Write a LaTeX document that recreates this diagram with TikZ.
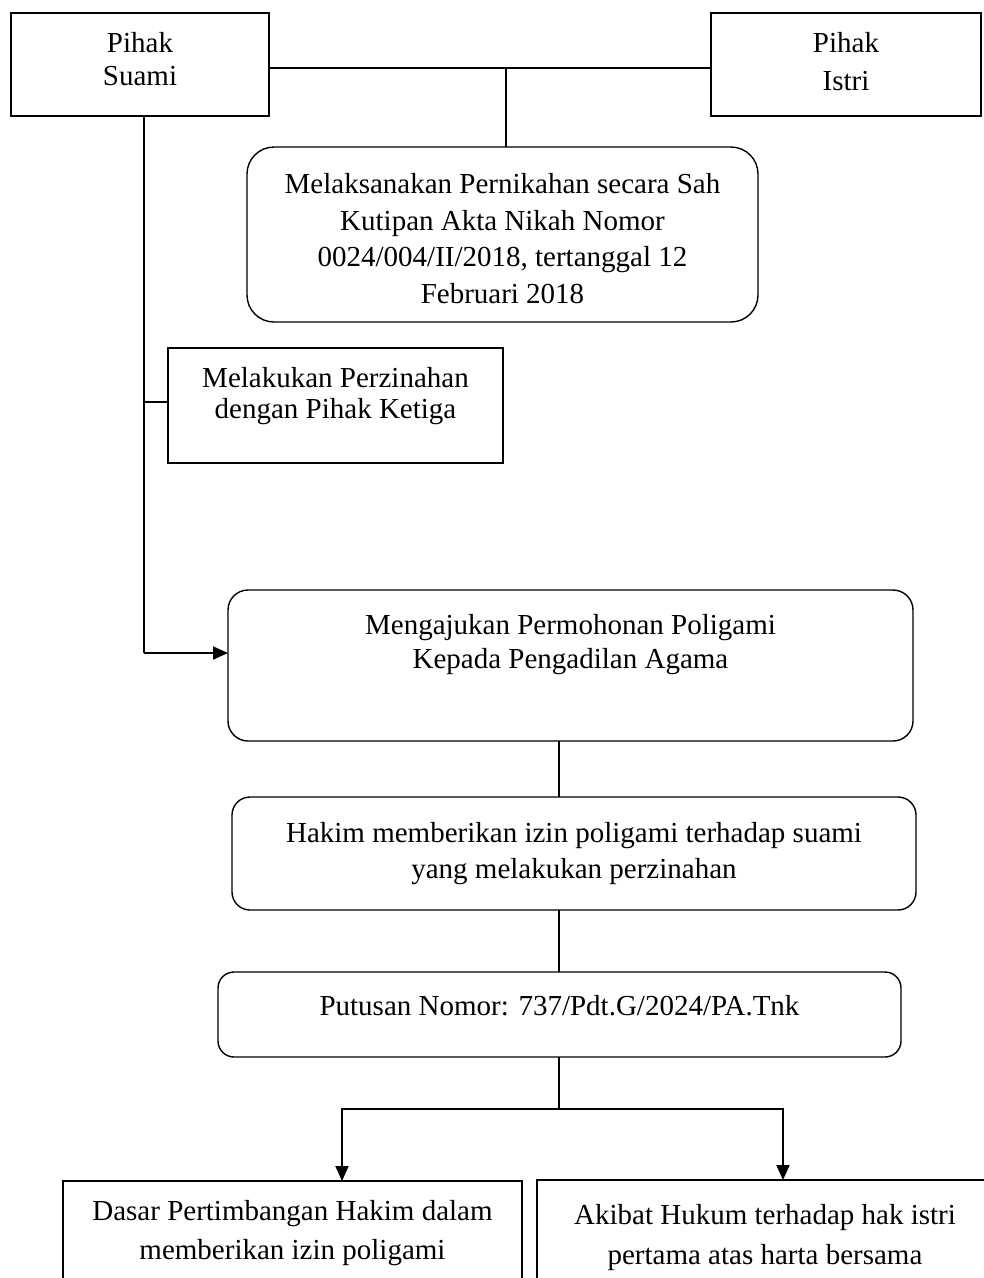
\documentclass[tikz,border=0pt]{standalone}
\usepackage{fontspec}
\setmainfont{Liberation Serif}
\usetikzlibrary{arrows.meta}
\newcommand\mystrut{\rule[-9pt]{0pt}{31pt}}
\begin{document}
\begin{tikzpicture}[x=1pt,y=-1pt,
  box/.style={draw, line width=1.4pt, inner sep=0pt, outer sep=0pt},
  rbox/.style={box, rounded corners=#1},
  lbl/.style={inner sep=0pt, outer sep=0pt, align=center, font=\fontsize{29}{#1}\selectfont},
  conn/.style={line width=1.1pt},
  arr/.style={line width=2pt, -{Triangle[length=15pt,width=13pt]}}]
\useasboundingbox (0,0) rectangle (984,1278);
\clip (0,0) rectangle (984,1278);

% boxes
\node[box, minimum width=258pt, minimum height=103pt] (suami) at (140,64.5) {};
\node[box, minimum width=270pt, minimum height=103pt] (istri) at (846,64.5) {};
\node[rbox=27pt, minimum width=511pt, minimum height=175pt] (nikah) at (502.5,234.5) {};
\node[box, minimum width=335pt, minimum height=115pt] (zina) at (335.5,405.5) {};
\node[rbox=20pt, minimum width=685pt, minimum height=151pt] (ajukan) at (570.5,665.5) {};
\node[rbox=18pt, minimum width=684pt, minimum height=113pt] (hakim) at (574,853.5) {};
\node[rbox=16pt, minimum width=683pt, minimum height=85pt] (putusan) at (559.5,1014.5) {};
\node[box, minimum width=459pt, minimum height=140pt] (dasar) at (292.5,1251) {};
\node[box, minimum width=456pt, minimum height=140pt] (akibat) at (765,1250) {};

% labels
\node[lbl=33] (suamiT) at (140,62) {\mystrut Pihak\\ \mystrut Suami};
\node[lbl=38] (istriT) at (846,64.5) {\mystrut Pihak\\ \mystrut Istri};
\node[lbl=36.7] (nikahT) at (502.5,242) {\mystrut Melaksanakan Pernikahan secara Sah\\ \mystrut Kutipan Akta Nikah Nomor\\ \mystrut 0024/004/II/2018, tertanggal 12\\ \mystrut Februari 2018};
\node[lbl=31.7] (zinaT) at (335.5,396.5) {\mystrut Melakukan Perzinahan\\ \mystrut dengan Pihak Ketiga};
\node[lbl=34] (ajukanT) at (570.5,644.5) {\mystrut Mengajukan Permohonan Poligami\\ \mystrut Kepada Pengadilan Agama};
\node[lbl=36] (hakimT) at (574,853.5) {\mystrut Hakim memberikan izin poligami terhadap suami\\ \mystrut yang melakukan perzinahan};
\node[lbl=36] (putusanT) at (559.5,1009) {\mystrut Putusan Nomor: 737/Pdt.G/2024/PA.Tnk};
\node[lbl=39] (dasarT) at (292.5,1233) {\mystrut Dasar Pertimbangan Hakim dalam\\ \mystrut memberikan izin poligami};
\node[lbl=40] (akibatT) at (765,1237.5) {\mystrut Akibat Hukum terhadap hak istri\\ \mystrut pertama atas harta bersama};

% connectors
\coordinate (j1) at (506,68);
\coordinate (j2) at (144,653);
\coordinate (j3) at (144,402);
\coordinate (j4) at (559,1109);
\coordinate (j5) at (342,1109);
\coordinate (j6) at (783,1109);

\draw[conn] (suami.east |- j1) -- (istri.west |- j1);
\draw[conn] (j1) -- (j1 |- nikah.north);
\draw[conn] (suami.south -| j2) -- (j2);
\draw[conn] (j3) -- (j3 -| zina.west);
\draw[arr] ([xshift=-0.5pt]j2) -- (j2 -| ajukan.west);
\draw[conn] (ajukan.south -| j4) -- (hakim.north -| j4);
\draw[conn] (hakim.south -| j4) -- (putusan.north -| j4);
\draw[conn] (putusan.south -| j4) -- (j4);
\draw[conn] ([xshift=-1pt]j5) -- ([xshift=1pt]j6);
\draw[arr] (j5) -- (j5 |- dasar.north);
\draw[arr] (j6) -- (j6 |- akibat.north);
\end{tikzpicture}
\end{document}
